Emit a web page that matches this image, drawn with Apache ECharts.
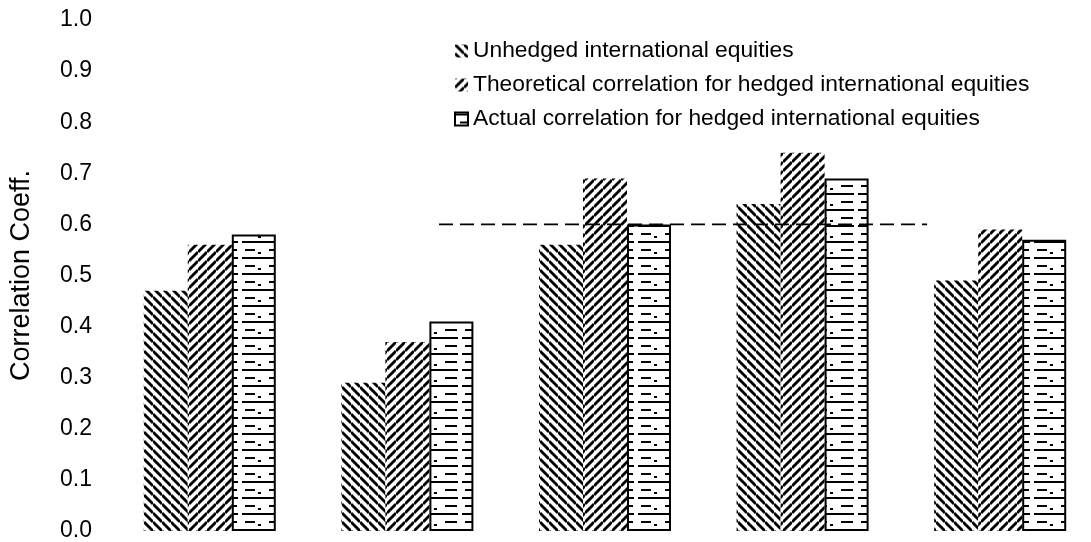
<!DOCTYPE html>
<html>
<head>
<meta charset="utf-8">
<script src="https://cdn.jsdelivr.net/npm/echarts@6/dist/echarts.min.js"></script>
<style>
html,body{margin:0;padding:0;background:#fff;}
#chart{width:1091px;height:542px;}
</style>
</head>
<body>
<div id="chart"></div>
<script>
// ---- data ----
const categories = ['1', '2', '3', '4', '5'];
const seriesNames = [
  'Unhedged international equities',
  'Theoretical correlation for hedged international equities',
  'Actual correlation for hedged international equities'
];
const unhedged    = [0.47, 0.29, 0.56, 0.64, 0.49];
const theoretical = [0.56, 0.37, 0.69, 0.74, 0.59];
const actual      = [0.58, 0.41, 0.60, 0.69, 0.57];
const yTickLabels = ['0.0','0.1','0.2','0.3','0.4','0.5','0.6','0.7','0.8','0.9','1.0'];
const refLineX = [1.66, 4.13];
const refLineY = [0.6, 0.6];

// ---- hatch patterns ----
function pattern(kind) {
  const c = document.createElement('canvas');
  const ctx = c.getContext('2d');
  if (kind === 'back' || kind === 'fwd') {
    const s = 9;
    c.width = s; c.height = s;
    ctx.fillStyle = '#fff'; ctx.fillRect(0, 0, s, s);
    ctx.strokeStyle = '#000'; ctx.lineWidth = 2.8;
    for (const k of [-s, 0, s]) {
      ctx.beginPath();
      if (kind === 'back') { ctx.moveTo(0, k); ctx.lineTo(s, s + k); }
      else { ctx.moveTo(0, s + k); ctx.lineTo(s, k); }
      ctx.stroke();
    }
  } else {
    c.width = 44; c.height = 16;
    ctx.fillStyle = '#fff'; ctx.fillRect(0, 0, 44, 16);
    ctx.fillStyle = '#000';
    ctx.fillRect(0, 1, 18, 2); ctx.fillRect(22, 1, 22, 2);
    ctx.fillRect(5, 9, 12, 2); ctx.fillRect(25, 9, 10, 2);
    ctx.fillRect(38, 12, 3, 2);
  }
  return { image: c, repeat: 'repeat' };
}

const chart = echarts.init(document.getElementById('chart'), null, { renderer: 'canvas' });
const font = '"Liberation Sans", Arial, sans-serif';

chart.setOption({
  animation: false,
  backgroundColor: '#fff',
  grid: { left: 111, top: 20, width: 988, height: 511, containLabel: false, outerBoundsMode: 'none' },
  legend: {
    orient: 'vertical',
    left: 449, top: 34,
    itemWidth: 13, itemHeight: 13, itemGap: 10,
    icon: 'rect',
    data: seriesNames,
    textStyle: { fontFamily: font, fontSize: 22.8, color: '#000', lineHeight: 24 }
  },
  xAxis: [
    {
      type: 'category', data: categories,
      axisLine: { show: false }, axisTick: { show: false }, axisLabel: { show: false },
      splitLine: { show: false }
    },
    { type: 'value', min: 0, max: 5, show: false }
  ],
  yAxis: {
    type: 'value', min: 0, max: 1, interval: 0.1,
    name: 'Correlation Coeff.', nameLocation: 'middle', nameGap: 76, nameRotate: 90,
    nameTextStyle: { fontFamily: font, fontSize: 27, color: '#000' },
    axisLine: { show: false }, axisTick: { show: false }, splitLine: { show: false },
    axisLabel: {
      margin: 19, fontFamily: font, fontSize: 23, color: '#000',
      formatter: (v, i) => yTickLabels[i]
    }
  },
  series: [
    {
      name: seriesNames[0], type: 'bar', data: unhedged, barWidth: 44, barGap: '0%',
      itemStyle: { color: pattern('back') }
    },
    {
      name: seriesNames[1], type: 'bar', data: theoretical, barWidth: 44, barGap: '0%',
      itemStyle: { color: pattern('fwd') }
    },
    {
      name: seriesNames[2], type: 'bar', data: actual, barWidth: 44, barGap: '0%',
      itemStyle: { color: pattern('horiz'), borderColor: '#000', borderWidth: 2 }
    },
    {
      name: 'ref', type: 'line', xAxisIndex: 1, silent: true, symbol: 'none',
      data: refLineX.map((x, i) => [x, refLineY[i]]),
      lineStyle: { color: '#000', width: 1.6, type: [14, 7] }
    }
  ]
});
</script>
</body>
</html>
